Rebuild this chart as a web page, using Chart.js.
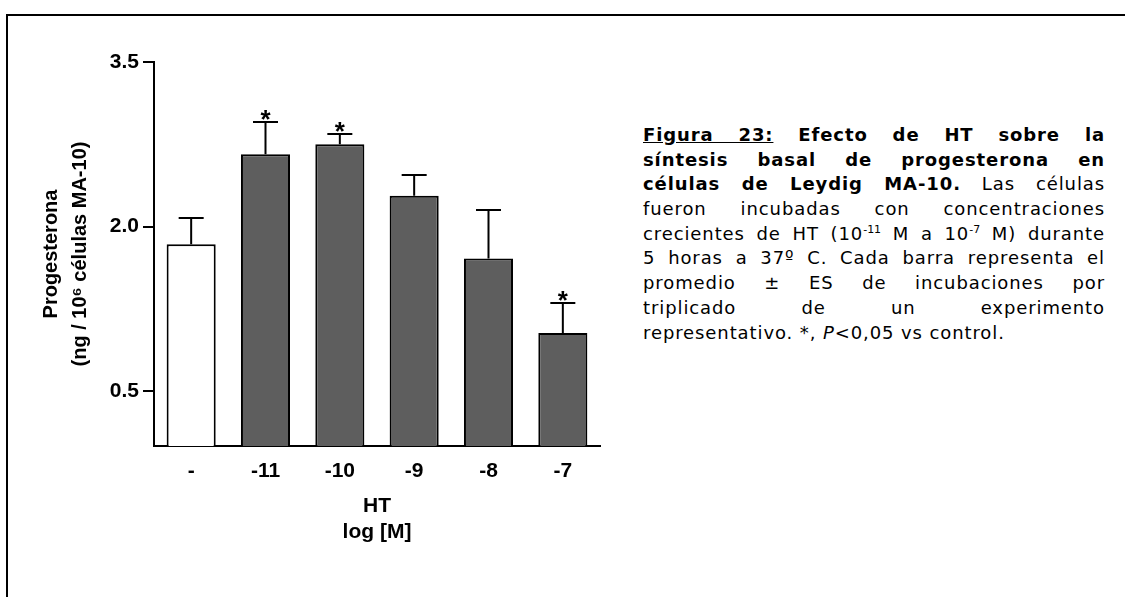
<!DOCTYPE html>
<html>
<head>
<meta charset="utf-8">
<script src="https://cdn.jsdelivr.net/npm/chart.js@4"></script>
<style>
  html, body { margin: 0; padding: 0; background: #fff; }
  body { width: 1125px; height: 597px; position: relative; overflow: hidden; }
  #frame {
    position: absolute; left: 6px; top: 14px; width: 1200px; height: 700px;
    border-left: 2px solid #000; border-top: 2px solid #000;
  }
  #chart-box { position: absolute; left: 0; top: 0; width: 640px; height: 597px; }
  #caption {
    position: absolute; left: 643px; top: 123px; width: 462px;
    font-family: "DejaVu Sans", Verdana, sans-serif; font-size: 18px;
    line-height: 24.7px; color: #000; letter-spacing: 0.9px;
  }
  #caption div { text-align: justify; text-align-last: justify; white-space: nowrap; height: 24.7px; }
  #caption div.last { text-align: left; text-align-last: left; }
  #caption .sup { font-size: 11px; line-height: 0; position: relative; top: -7px; letter-spacing: 0; }
</style>
</head>
<body>
<div id="frame"></div>
<div id="chart-box"><canvas id="chart-wrapper"></canvas></div>
<div id="caption">
  <div><b><u>Figura 23:</u> Efecto de HT sobre la</b></div>
  <div><b>síntesis basal de progesterona en</b></div>
  <div><b>células de Leydig MA-10.</b> Las células</div>
  <div>fueron incubadas con concentraciones</div>
  <div>crecientes de HT (10<span class="sup">-11</span> M a 10<span class="sup">-7</span> M) durante</div>
  <div>5 horas a 37º C. Cada barra representa el</div>
  <div>promedio ± ES de incubaciones por</div>
  <div>triplicado de un experimento</div>
  <div class="last">representativo. *, <i>P</i>&lt;0,05 vs control.</div>
</div>
<script>
// values
const categories = ['-', '-11', '-10', '-9', '-8', '-7'];
const means = [1.84, 2.66, 2.75, 2.28, 1.71, 1.03];
const errors = [0.24, 0.29, 0.09, 0.19, 0.44, 0.27];
const significant = [false, true, true, false, false, true];
const yTickValues = [0.5, 2.0, 3.5];

const barColors = categories.map((c, i) => i === 0 ? '#ffffff' : '#5e5e5e');
const fontFamily = '"Liberation Sans", Arial, sans-serif';

// error bars (upper only) + asterisks
const errorBarPlugin = {
    id: 'errorBars',
    afterDatasetsDraw: (chart) => {
        const { ctx } = chart;
        const y = chart.scales.y;
        const meta = chart.getDatasetMeta(0);
        ctx.save();
        ctx.strokeStyle = '#000';
        ctx.fillStyle = '#000';
        ctx.lineWidth = 2;
        ctx.font = 'bold 26px ' + fontFamily;
        ctx.textAlign = 'center';
        ctx.textBaseline = 'alphabetic';
        meta.data.forEach((bar, i) => {
            const top = y.getPixelForValue(means[i]);
            const capY = Math.round(y.getPixelForValue(means[i] + errors[i]));
            ctx.beginPath();
            ctx.moveTo(bar.x, top);
            ctx.lineTo(bar.x, capY);
            ctx.moveTo(bar.x - 12.5, capY);
            ctx.lineTo(bar.x + 12.5, capY);
            ctx.stroke();
            if (significant[i]) {
                ctx.fillText('*', bar.x, capY + 6);
            }
        });
        ctx.restore();
    }
};

const ctx = document.getElementById('chart-wrapper');
const myChart = new Chart(ctx, {
    type: 'bar',
    data: {
        labels: categories,
        datasets: [{
            data: means,
            backgroundColor: barColors,
            borderColor: '#000',
            borderWidth: 2,
            barPercentage: 0.66,
            categoryPercentage: 1,
        }],
    },
    options: {
        responsive: true,
        maintainAspectRatio: false,
        animation: false,
        devicePixelRatio: 1,
        layout: { padding: { left: 0, top: 62, right: 40, bottom: 0 } },
        plugins: {
            legend: { display: false },
            tooltip: { enabled: false },
        },
        scales: {
            x: {
                grid: { drawOnChartArea: false, drawTicks: false },
                border: { display: true, color: '#000', width: 2 },
                ticks: {
                    color: '#000',
                    padding: 13,
                    font: { family: fontFamily, size: 21, weight: 'bold' },
                },
                title: {
                    display: true,
                    text: ['HT', 'log [M]'],
                    color: '#000',
                    font: { family: fontFamily, size: 21, weight: 'bold', lineHeight: 1.22 },
                    padding: { top: 0, bottom: 52 },
                },
                afterFit: (scale) => { scale.height = 151; },
            },
            y: {
                min: 0,
                max: 3.5,
                afterBuildTicks: (scale) => {
                    scale.ticks = yTickValues.map(v => ({ value: v }));
                },
                grid: { drawOnChartArea: false, drawTicks: true, tickLength: 11, color: '#000', lineWidth: 2 },
                border: { display: true, color: '#000', width: 2 },
                ticks: {
                    color: '#000',
                    padding: 4,
                    font: { family: fontFamily, size: 21, weight: 'bold' },
                    callback: (v) => Number(v).toFixed(1),
                },
                title: {
                    display: true,
                    text: ['Progesterona', '(ng / 10⁶ células MA-10)'],
                    color: '#000',
                    font: { family: fontFamily, size: 20, weight: 'bold', lineHeight: 1.45 },
                    padding: { top: 37, bottom: 0 },
                },
                afterFit: (scale) => { scale.width = 154; },
            },
        },
    },
    plugins: [errorBarPlugin],
});
</script>
</body>
</html>
